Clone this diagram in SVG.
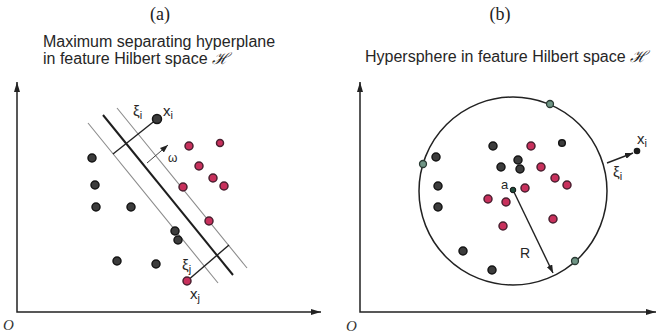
<svg xmlns="http://www.w3.org/2000/svg" width="657" height="336" viewBox="0 0 657 336">
<style>
.t{font-family:"Liberation Sans",Arial,sans-serif;fill:#262626}
.ttl{font-family:"Liberation Serif","Times New Roman",serif;font-size:18px;fill:#222;text-anchor:middle}
.h{font-family:"DejaVu Serif",serif;font-style:italic}
.ax{stroke:#222;stroke-width:1.5;fill:none}
.d{fill:#3c3c3c;stroke:#151515;stroke-width:1.5}
.r{fill:#c8305c;stroke:#4a2030;stroke-width:1.5}
.g{fill:#6f9585;stroke:#2a3a33;stroke-width:1.3}
.m{stroke:#8a8a8a;stroke-width:1.1;fill:none}
.k{stroke:#222;stroke-width:1.4;fill:none}
.o{font-family:"Liberation Serif",serif;font-style:italic;font-size:15px;fill:#333}
</style>
<defs>
<marker id="ah" viewBox="0 0 10 6" refX="10" refY="3" markerWidth="10" markerHeight="6" markerUnits="userSpaceOnUse" orient="auto-start-reverse"><path d="M0,0 L10,3 L0,6 z" fill="#222"/></marker>
<marker id="sa" viewBox="0 0 8 6" refX="8" refY="3" markerWidth="8" markerHeight="6" markerUnits="userSpaceOnUse" orient="auto"><path d="M0,0 L8,3 L0,6 z" fill="#222"/></marker>
</defs>
<rect width="657" height="336" fill="#fff"/>

<g id="titles">
<text class="ttl" x="160" y="20">(a)</text>
<text class="ttl" x="500" y="20">(b)</text>
<text class="t" x="43" y="47" font-size="16">Maximum separating hyperplane</text>
<text class="t" x="43" y="64" font-size="16">in feature Hilbert space <tspan class="h">ℋ</tspan></text>
<text class="t" x="365" y="62" font-size="16">Hypersphere in feature Hilbert space <tspan class="h">ℋ</tspan></text>
</g>

<g id="axes">
<path class="ax" d="M17,82 L17,312 L321,312" marker-start="url(#ah)" marker-end="url(#ah)"/>
<path class="ax" d="M360,82 L360,312 L656,312" marker-start="url(#ah)" marker-end="url(#ah)"/>
<text class="o" x="3" y="330">O</text>
<text class="o" x="346" y="331">O</text>
</g>

<g id="connectors">
<line class="m" x1="88" y1="123" x2="218" y2="283"/>
<line stroke="#1e1e1e" stroke-width="2" x1="103" y1="115" x2="233" y2="275"/>
<line class="m" x1="117" y1="108" x2="247" y2="268"/>
<line class="k" x1="157" y1="119" x2="113" y2="154"/>
<line class="k" x1="187" y1="281" x2="229" y2="245"/>
<line stroke="#444" stroke-width="1" x1="147" y1="163" x2="168" y2="145" marker-end="url(#sa)"/>
<circle cx="513" cy="191" r="94" fill="none" stroke="#222" stroke-width="1.5"/>
<line class="k" x1="513" y1="190" x2="553" y2="273" marker-end="url(#sa)"/>
<line class="k" x1="607" y1="163" x2="633" y2="153" marker-end="url(#sa)"/>
</g>

<g id="points-a">
<circle class="d" cx="92" cy="158" r="4"/>
<circle class="d" cx="95" cy="185" r="4"/>
<circle class="d" cx="96" cy="207" r="4"/>
<circle class="d" cx="131" cy="207" r="4"/>
<circle class="d" cx="175" cy="231" r="4"/>
<circle class="d" cx="178" cy="240" r="4"/>
<circle class="d" cx="117" cy="261" r="4"/>
<circle class="d" cx="156" cy="264" r="4"/>
<circle class="d" cx="157" cy="119" r="4.5"/>
<circle class="r" cx="189" cy="146" r="4"/>
<circle class="r" cx="220" cy="143" r="3.5"/>
<circle class="r" cx="199" cy="166" r="4"/>
<circle class="r" cx="213" cy="178" r="4"/>
<circle class="r" cx="224" cy="186" r="4"/>
<circle class="r" cx="183" cy="187" r="4"/>
<circle class="r" cx="209" cy="221" r="4"/>
<circle class="r" cx="187" cy="281" r="4"/>
</g>

<g id="points-b">
<circle class="d" cx="493" cy="146" r="4"/>
<circle class="d" cx="436" cy="157" r="4"/>
<circle class="d" cx="518" cy="160" r="4"/>
<circle class="d" cx="562" cy="143" r="3.3"/>
<circle class="d" cx="501" cy="167" r="4"/>
<circle class="d" cx="520" cy="169" r="4"/>
<circle class="d" cx="438" cy="186" r="4"/>
<circle class="d" cx="438" cy="207" r="4"/>
<circle class="d" cx="463" cy="251" r="4"/>
<circle class="d" cx="492" cy="270" r="4"/>
<circle class="r" cx="531" cy="146" r="4"/>
<circle class="r" cx="541" cy="167" r="4"/>
<circle class="r" cx="555" cy="178" r="4"/>
<circle class="r" cx="567" cy="185" r="4"/>
<circle class="r" cx="525" cy="188" r="4"/>
<circle class="r" cx="488" cy="199" r="4"/>
<circle class="r" cx="506" cy="202" r="4"/>
<circle class="r" cx="503" cy="226" r="4"/>
<circle class="r" cx="553" cy="219" r="4"/>
<circle class="g" cx="550" cy="104" r="3.5"/>
<circle class="g" cx="423" cy="164" r="3.5"/>
<circle class="g" cx="575" cy="261" r="3.5" fill="#5a6a62"/>
<circle cx="513" cy="190" r="2.8" fill="#1f4a3a" stroke="#111" stroke-width="1"/>
<circle cx="637" cy="151" r="3.3" fill="#1a1a1a"/>
</g>

<g id="labels">
<text class="t" x="133" y="116" font-size="15">ξ<tspan font-size="11" dy="3">i</tspan></text>
<text class="t" x="163" y="116" font-size="15">x<tspan font-size="11" dy="3">i</tspan></text>
<text class="t" x="168" y="162" font-size="12">ω</text>
<text class="t" x="182" y="270" font-size="15">ξ<tspan font-size="11" dy="3">j</tspan></text>
<text class="t" x="190" y="299" font-size="15">x<tspan font-size="11" dy="3">j</tspan></text>
<text class="t" x="501" y="189" font-size="13">a</text>
<text class="t" x="520" y="258" font-size="14">R</text>
<text class="t" x="637" y="144" font-size="15">x<tspan font-size="11" dy="3">i</tspan></text>
<text class="t" x="613" y="177" font-size="15">ξ<tspan font-size="11" dy="3">i</tspan></text>
</g>
</svg>
